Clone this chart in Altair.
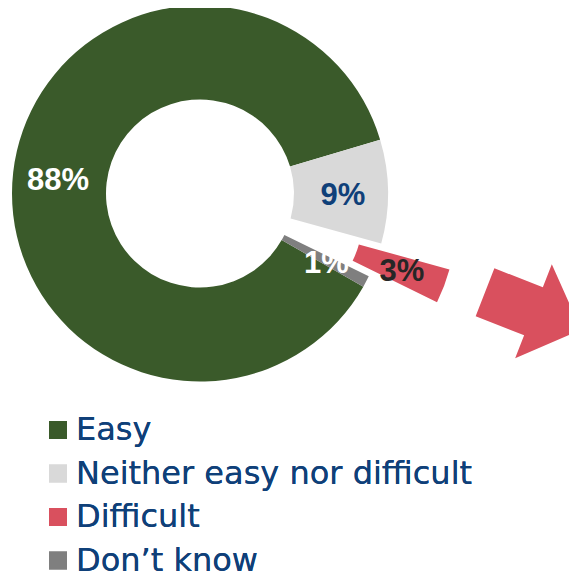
import math
import altair as alt
import pandas as pd

# ---- data ----
categories = ["Easy", "Neither easy nor difficult", "Difficult", "Don\u2019t know"]
values = [88, 9, 3, 1]
labels = ["88%", "9%", "3%", "1%"]
order_idx = [0, 1, 2, 3]
exploded_cat = "Difficult"

# ---- styles ----
colors = ["#3A5A2A", "#D9D9D9", "#D9505E", "#7F7F7F"]
label_colors = ["#FFFFFF", "#0F4079", "#262626", "#FFFFFF"]
text_blue = "#0F4079"
font = "Liberation Sans"
legend_font = "DejaVu Sans"

df = pd.DataFrame({"cat": categories, "value": values, "label": labels, "idx": order_idx})

start_deg = 119.7
start = math.radians(start_deg)
total = sum(values)
theta_scale = alt.Scale(domain=[0, total], range=[start, start + 2 * math.pi])

CX, CY = 192, 185.5
R_OUT, R_IN = 188, 94
EXPLODE = 73

# direction of the exploded slice's bisector
k = categories.index(exploded_cat)
cum_before = sum(values[:k])
mid_frac = (cum_before + values[k] / 2) / total
mid_ang = start + mid_frac * 2 * math.pi
EX = CX + EXPLODE * math.sin(mid_ang)
EY = CY - EXPLODE * math.cos(mid_ang)

base = (
    alt.Chart(df)
    .transform_window(end="sum(value)", sort=[alt.SortField("idx")], frame=[None, 0])
    .transform_calculate(start="datum.end - datum.value", mid="datum.end - datum.value / 2")
)

legend = alt.Legend(
    orient="none", legendX=34, legendY=406, title=None,
    symbolType="square", symbolSize=324, symbolStrokeWidth=0, symbolOpacity=1,
    labelFont=legend_font, labelFontSize=32, labelColor=text_blue, labelLimit=600,
    rowPadding=11.5, labelOffset=2, padding=0, direction="vertical",
)

color_enc = alt.Color("cat:N", scale=alt.Scale(domain=categories, range=colors), legend=legend)

ring = base.transform_filter(alt.datum.cat != exploded_cat).mark_arc(
    outerRadius=R_OUT, innerRadius=R_IN
).encode(
    theta=alt.Theta("start:Q", scale=theta_scale, stack=False),
    theta2="end:Q",
    color=color_enc,
    x=alt.value(CX), y=alt.value(CY),
)

exploded = base.transform_filter(alt.datum.cat == exploded_cat).mark_arc(
    outerRadius=R_OUT, innerRadius=R_IN
).encode(
    theta=alt.Theta("start:Q", scale=theta_scale, stack=False),
    theta2="end:Q",
    color=color_enc,
    x=alt.value(EX), y=alt.value(EY),
)

lab_color = alt.Color("cat:N", scale=alt.Scale(domain=categories, range=label_colors), legend=None)

ring_text = base.transform_filter(alt.datum.cat != exploded_cat).mark_text(
    radius=143, font=font, fontSize=31, fontWeight="bold", dy=4
).encode(
    theta=alt.Theta("mid:Q", scale=theta_scale, stack=False),
    text="label:N",
    color=lab_color,
    x=alt.value(CX), y=alt.value(CY),
)

exp_text = base.transform_filter(alt.datum.cat == exploded_cat).mark_text(
    radius=143, font=font, fontSize=31, fontWeight="bold", dy=2
).encode(
    theta=alt.Theta("mid:Q", scale=theta_scale, stack=False),
    text="label:N",
    color=lab_color,
    x=alt.value(EX), y=alt.value(EY),
)

arrow_path = "M-1,-0.5L0.01,-0.5L0.01,-0.98L1,0L0.01,0.98L0.01,0.5L-1,0.5Z"
arrow = alt.Chart(pd.DataFrame({"a": [0]})).mark_point(
    shape=arrow_path, filled=True, opacity=1, color="#D9505E", size=103 * 103, angle=21.3, strokeWidth=0
).encode(x=alt.value(525), y=alt.value(303))

chart = (
    alt.layer(ring, exploded, ring_text, exp_text, arrow)
    .resolve_scale(color="independent")
    .properties(width=561, height=564, padding=0, autosize=alt.AutoSizeParams(type="none"))
    .configure_view(stroke=None)
)

chart.save("out.html", embed_options={"renderer": "svg", "actions": False})
